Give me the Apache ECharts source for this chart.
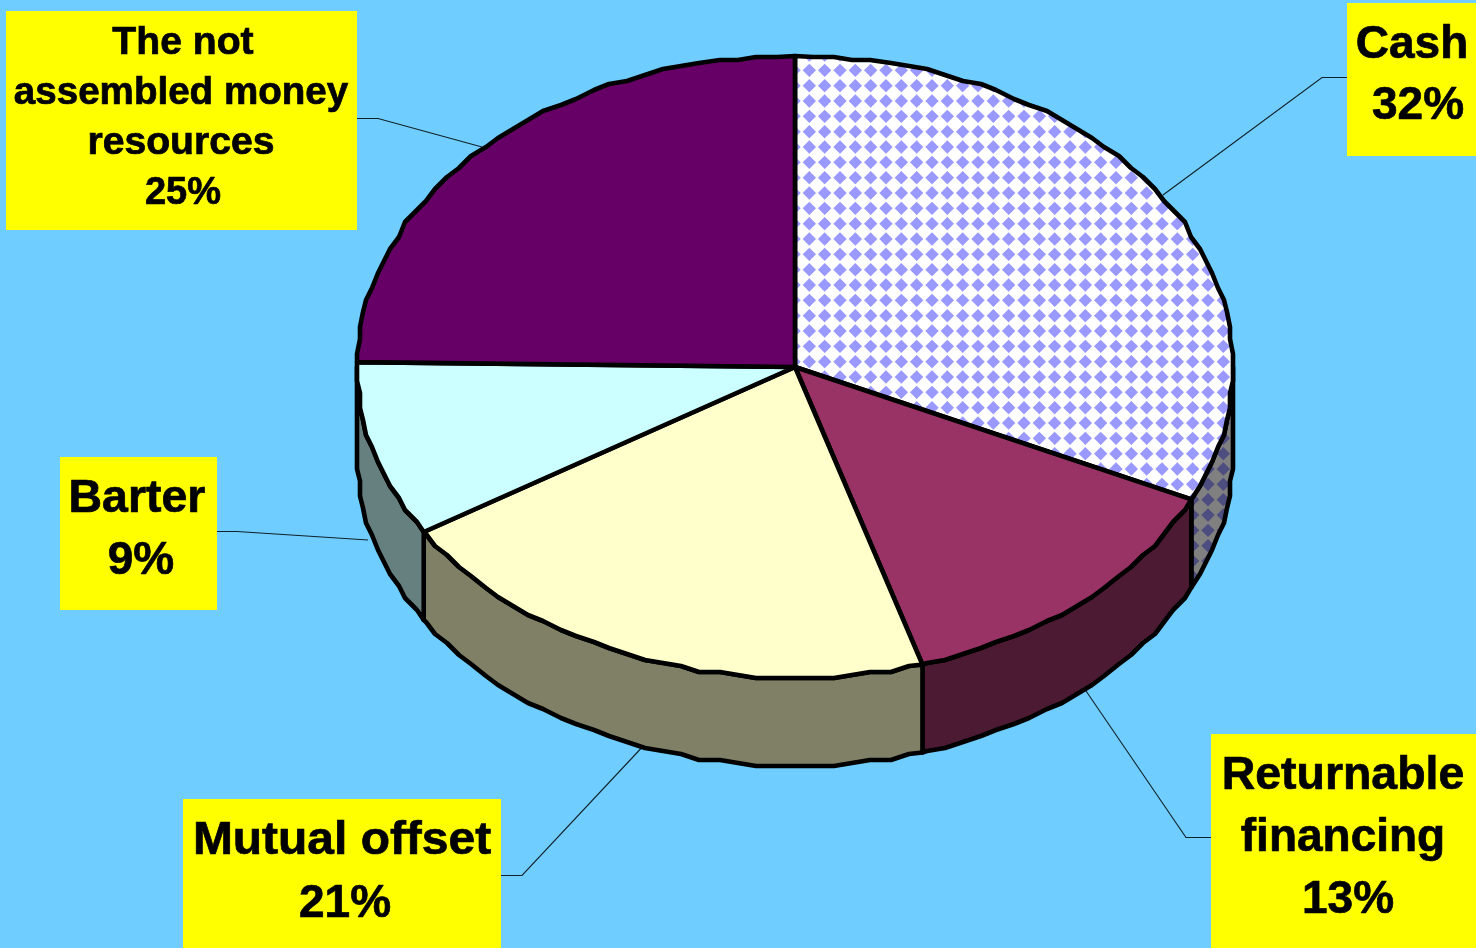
<!DOCTYPE html>
<html><head><meta charset="utf-8">
<style>html,body{margin:0;padding:0;background:#6FCEFF}#c{width:1476px;height:948px}</style>
<script src="https://cdn.jsdelivr.net/npm/echarts@6/dist/echarts.min.js"></script>
</head><body><div id="c"></div>
<script>
const categories = ['Cash','Returnable financing','Mutual offset','Barter','The not assembled money resources'];
const shares = [32,13.3,20.8,9.15,24.75];
const topColors = ['pattern','#993366','#FFFFCC','#CCFFFF','#660066'];
const sideColors = ['patternDark','#4D1A33','#808066','#668080','#330033'];
const nameLines = [['Cash'],['Returnable','financing'],['Mutual offset'],['Barter'],['The not','assembled money','resources']];

const labelBoxes = [
 {x:1347,y:3,w:129,h:153,fs:46,lines:[[1412,45,1],[1418,106,1]],lead:[[1347,77.5],[1322,77.5],[1163,195]]},
 {x:1211,y:734,w:265,h:214,fs:46,lines:[[1343,776,1.01],[1343,838,1],[1348,900,1]],lead:[[1211,837.5],[1186,837.5],[1084,688]]},
 {x:183,y:799,w:318,h:149,fs:46,lines:[[342,841,1.042],[345,904,1]],lead:[[501,875.5],[522,875.5],[647,742]]},
 {x:60,y:457,w:157,h:153,fs:46,lines:[[137,499,1.01],[141,561,1]],lead:[[217,531.5],[237,531.5],[368,540]]},
 {x:6,y:11,w:351,h:219,fs:38,lines:[[183,44,1.03],[181,94,1.015],[181,144,1.03],[183,194,1]],lead:[[357,118.5],[378,118.5],[482,147]]}
];

const CX=795, CY=367, RX=438, RY=311, DEPTH=88, SNAP=3, STEP=2.5;
function tile(bg,fg){
  const n=46,p=n/3,h=6.7,c=document.createElement('canvas');c.width=c.height=n;
  const g=c.getContext('2d');g.fillStyle=bg;g.fillRect(0,0,n,n);g.fillStyle=fg;
  for(let ix=-1;ix<=3;ix++)for(let iy=-1;iy<=3;iy++){
    const x=12+ix*p,y=9+iy*p;
    g.beginPath();g.moveTo(x-h,y);g.lineTo(x,y-h);g.lineTo(x+h,y);g.lineTo(x,y+h);g.closePath();g.fill();
  }
  return {image:c,repeat:'repeat'};
}
const patterns={pattern:tile('#FFFFFF','#9999FF'),patternDark:tile('#808080','#4D4D80')};
const paint=c=>patterns[c]||c;
function pt(deg,snap){
  const r=deg*Math.PI/180;
  const x=CX+RX*Math.sin(r),y=CY-RY*Math.cos(r);
  return snap?[Math.round(x/SNAP)*SNAP,Math.round(y/SNAP)*SNAP]:[x,y];
}
function arc(a,b){
  const out=[pt(a,false)];
  let d=Math.ceil(a/STEP+0.2)*STEP;
  for(;d<b-0.4;d+=STEP) out.push(pt(d,true));
  out.push(pt(b,false));
  return out;
}
const total=shares.reduce((s,v)=>s+v,0);
function range(i){
  let s=0;for(let k=0;k<i;k++)s+=shares[k];
  return [s/total*360,(s+shares[i])/total*360];
}
const stroke={stroke:'#000',lineWidth:4.6,lineJoin:'round'};
function renderSide(params,api){
  const i=params.dataIndex;api.value(0);
  const [a,b]=range(i);
  const lo=Math.max(a,90),hi=Math.min(b,270);
  if(hi<=lo) return null;
  const t=arc(lo,hi);
  const points=t.concat(t.slice().reverse().map(p=>[p[0],p[1]+DEPTH]));
  return {type:'polygon',shape:{points},style:Object.assign({fill:paint(sideColors[i])},stroke)};
}
function renderTop(params,api){
  const i=params.dataIndex;api.value(0);
  const [a,b]=range(i);
  return {type:'polygon',shape:{points:[[CX,CY]].concat(arc(a,b))},style:Object.assign({fill:paint(topColors[i])},stroke)};
}
const graphics=[];
labelBoxes.forEach((b,i)=>{
  graphics.push({type:'polyline',z:1,silent:true,shape:{points:b.lead},style:{fill:null,stroke:'#10202a',lineWidth:1.1}});
  graphics.push({type:'rect',z:5,silent:true,shape:{x:b.x,y:b.y,width:b.w,height:b.h},style:{fill:'#FFFF00'}});
  nameLines[i].concat([Math.round(shares[i])+'%']).forEach((s,k)=>graphics.push({type:'text',z:6,silent:true,
    x:b.lines[k][0],y:b.lines[k][1],scaleX:b.lines[k][2],
    style:{text:s,fill:'#000',stroke:'#000',lineWidth:0.7,font:'bold '+b.fs+'px "Liberation Sans", Arial, sans-serif',textAlign:'center',textVerticalAlign:'middle'}}));
});
const chart=echarts.init(document.getElementById('c'),null,{renderer:'canvas'});
chart.setOption({
  animation:false,backgroundColor:'#6FCEFF',
  graphic:graphics,
  series:[
    {type:'custom',coordinateSystem:'none',silent:true,z:2,renderItem:renderSide,data:shares.map((v,i)=>({name:categories[i],value:[v]}))},
    {type:'custom',coordinateSystem:'none',silent:true,z:3,renderItem:renderTop,data:shares.map((v,i)=>({name:categories[i],value:[v]}))}
  ]
});
</script></body></html>
